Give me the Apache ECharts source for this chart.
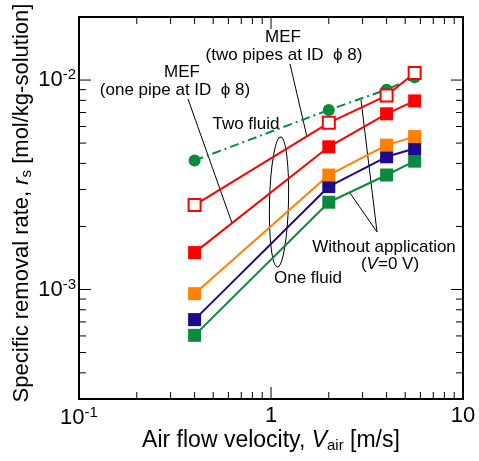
<!DOCTYPE html>
<html>
<head>
<meta charset="utf-8">
<script src="https://cdn.jsdelivr.net/npm/echarts@6/dist/echarts.min.js"></script>
<style>
html, body { margin: 0; padding: 0; background: #fff; }
#main { width: 479px; height: 461px; }
</style>
</head>
<body>
<div id="main"></div>
<script>
// air velocity [m/s]
var velocity = [0.4, 2, 4, 5.6];
// specific removal rate [mol/kg-solution]
var twoFluidNoField = [4.13e-3, 7.2e-3, 9.0e-3, 1.03e-2];
var mefTwoPipes = [2.53e-3, 6.25e-3, 8.43e-3, 1.08e-2];
var mefOnePipe = [1.50e-3, 4.80e-3, 6.90e-3, 7.95e-3];
var oneFluidOrange = [9.55e-4, 3.52e-3, 4.89e-3, 5.37e-3];
var oneFluidNavy = [7.18e-4, 3.10e-3, 4.30e-3, 4.71e-3];
var oneFluidNoField = [6.04e-4, 2.61e-3, 3.52e-3, 4.10e-3];

var xRange = [0.1, 10];
var yRange = [3e-4, 2e-2];
var xMajorTicks = [1];
var xMinorTicks = [0.2, 0.3, 0.4, 0.5, 0.6, 0.7, 0.8, 0.9, 2, 3, 4, 5, 6, 7, 8, 9];
var yMajorTicks = [1e-3, 1e-2];
var yMinorTicks = [4e-4, 5e-4, 6e-4, 7e-4, 8e-4, 9e-4, 2e-3, 3e-3, 4e-3, 5e-3, 6e-3, 7e-3, 8e-3, 9e-3];
var tickLabels = {'-3': '10{sup|-3}', '-2': '10{sup|-2}', '-1': '10{sup|-1}', '0': '1', '1': '10'};

var FONT = '"Liberation Sans", Arial, sans-serif';
var chart = echarts.init(document.getElementById('main'), null, {renderer: 'canvas'});

function pts(ys) { return velocity.map(function (v, i) { return [v, ys[i]]; }); }

function tickData(list, major, horizontal) {
    return list.map(function (v) { return horizontal ? [v, yRange[0], major] : [xRange[0], v, major]; });
}

function xTick(params, api) {
    var len = api.value(2) ? 12 : 7;
    var b = api.coord([api.value(0), yRange[0]]), t = api.coord([api.value(0), yRange[1]]);
    var st = {stroke: '#000', lineWidth: 1};
    return {type: 'group', children: [
        {type: 'line', shape: {x1: b[0], y1: b[1], x2: b[0], y2: b[1] - len}, style: st},
        {type: 'line', shape: {x1: t[0], y1: t[1], x2: t[0], y2: t[1] + len}, style: st}
    ]};
}
function yTick(params, api) {
    var len = api.value(2) ? 12 : 7;
    var l = api.coord([xRange[0], api.value(1)]), r = api.coord([xRange[1], api.value(1)]);
    var st = {stroke: '#000', lineWidth: 1};
    return {type: 'group', children: [
        {type: 'line', shape: {x1: l[0], y1: l[1], x2: l[0] + len, y2: l[1]}, style: st},
        {type: 'line', shape: {x1: r[0], y1: r[1], x2: r[0] - len, y2: r[1]}, style: st}
    ]};
}

function labelFmt(v) {
    var e = Math.log10(v), k = Math.round(e);
    if (Math.abs(e - k) > 1e-6) return '';
    return tickLabels[String(k)] || '';
}
var labelRich = {sup: {fontSize: 15, fontFamily: FONT, color: '#000', verticalAlign: 'top', padding: [0, 0, 10, 0]}};

function lineSeries(name, ys, color, symbol, extra) {
    var s = {
        name: name, type: 'line', data: pts(ys), symbol: symbol, symbolSize: 13,
        lineStyle: {color: color, width: 2},
        itemStyle: {color: color, borderColor: color, borderWidth: 0},
        animation: false, z: 3
    };
    return Object.assign(s, extra || {});
}

var annoText = {font: '17px ' + FONT, fill: '#000', textAlign: 'center', textVerticalAlign: 'middle'};
function txt(x, y, s, extra) {
    return {type: 'text', x: x, y: y, silent: true, style: Object.assign({text: s}, annoText, extra || {})};
}
function seg(x1, y1, x2, y2) {
    return {type: 'line', silent: true, shape: {x1: x1, y1: y1, x2: x2, y2: y2}, style: {stroke: '#000', lineWidth: 1}};
}
function titleRich(size) {
    return {
        i: {fontStyle: 'italic', fontSize: size, fontFamily: FONT},
        sub: {fontSize: 15, fontFamily: FONT, verticalAlign: 'bottom', padding: [9, 0, 0, 0]}
    };
}

chart.setOption({
    backgroundColor: '#fff',
    animation: false,
    grid: {left: 79, right: 16, top: 17, bottom: 62, show: true, borderColor: '#000', borderWidth: 2, outerBoundsMode: 'none', containLabel: false},
    xAxis: {
        type: 'log', logBase: 10, min: xRange[0], max: xRange[1],
        axisLine: {show: false}, axisTick: {show: false}, splitLine: {show: false}, minorTick: {show: false},
        axisLabel: {formatter: labelFmt, margin: 6, fontSize: 22, fontFamily: FONT, color: '#000', rich: labelRich}
    },
    yAxis: {
        type: 'log', logBase: 10, min: yRange[0], max: yRange[1],
        axisLine: {show: false}, axisTick: {show: false}, splitLine: {show: false}, minorTick: {show: false},
        axisLabel: {formatter: labelFmt, margin: 3, fontSize: 22, fontFamily: FONT, color: '#000', rich: labelRich}
    },
    series: [
        {type: 'custom', renderItem: xTick, data: tickData(xMajorTicks, 1, true).concat(tickData(xMinorTicks, 0, true)), silent: true, z: 1, animation: false},
        {type: 'custom', renderItem: yTick, data: tickData(yMajorTicks, 1, false).concat(tickData(yMinorTicks, 0, false)), silent: true, z: 1, animation: false},
        lineSeries('Two fluid, V=0', twoFluidNoField, '#0a8a3c', 'circle', {symbolSize: 12, lineStyle: {color: '#0a8a3c', width: 2, type: [9, 4, 2, 4]}}),
        lineSeries('One fluid, V=0', oneFluidNoField, '#0a8a3c', 'rect'),
        lineSeries('One fluid (navy)', oneFluidNavy, '#1a0a8c', 'rect'),
        lineSeries('One fluid (orange)', oneFluidOrange, '#ff8000', 'rect'),
        lineSeries('MEF one pipe', mefOnePipe, '#ff0000', 'rect'),
        lineSeries('MEF two pipes', mefTwoPipes, '#ff0000', 'rect', {
            itemStyle: {color: '#fff', borderColor: '#ff0000', borderWidth: 2}, symbolSize: 12, z: 4
        })
    ],
    graphic: [
        // axis titles
        {type: 'text', x: 271, y: 441, silent: true, style: {
            text: 'Air flow velocity, {i|V}{sub|air} [m/s]', font: '23px ' + FONT, fill: '#000',
            textAlign: 'center', textVerticalAlign: 'middle', rich: titleRich(23)
        }},
        {type: 'text', x: 22, y: 203, rotation: Math.PI / 2, silent: true, style: {
            text: 'Specific removal rate, {i|r}{sub|s} [mol/kg-solution]', font: '22px ' + FONT, fill: '#000',
            textAlign: 'center', textVerticalAlign: 'middle', rich: titleRich(22)
        }},
        // annotations
        txt(283, 37, 'MEF'),
        txt(284, 55, '(two pipes at ID  \u03d5 8)'),
        txt(182, 72, 'MEF'),
        txt(175, 90, '(one pipe at ID  \u03d5 8)'),
        txt(246, 124, 'Two fluid'),
        txt(308, 278, 'One fluid'),
        txt(384, 247, 'Without application'),
        {type: 'text', x: 390, y: 264, silent: true, style: Object.assign({
            text: '({i|V}=0 V)', rich: {i: {fontStyle: 'italic', fontSize: 17, fontFamily: FONT}}
        }, annoText)},
        seg(290, 64, 307, 137),
        seg(188, 99, 232, 223),
        seg(377, 232, 361, 100),
        seg(377, 232, 350, 193),
        {type: 'ellipse', silent: true, x: 279, y: 202, rotation: -0.025, shape: {cx: 0, cy: 0, rx: 9.5, ry: 65},
            style: {fill: 'none', stroke: '#000', lineWidth: 1}}
    ]
});
</script>
</body>
</html>
